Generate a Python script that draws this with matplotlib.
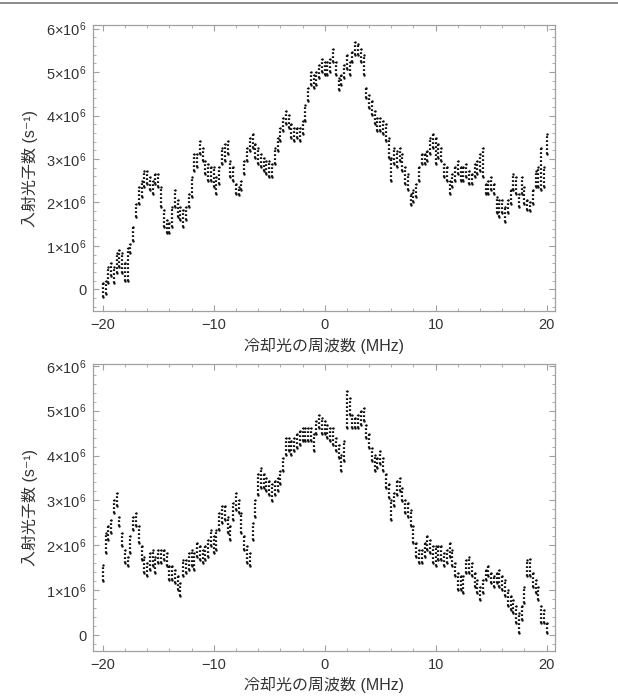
import numpy as np
import matplotlib
matplotlib.use("Agg")
import matplotlib.pyplot as plt
from matplotlib.ticker import FixedLocator, MultipleLocator, FixedFormatter
from matplotlib.lines import Line2D

plt.rcParams['font.family'] = ['Liberation Sans', 'Noto Sans CJK JP', 'DejaVu Sans']
plt.rcParams['mathtext.fontset'] = 'custom'
plt.rcParams['mathtext.rm'] = 'Liberation Sans'
plt.rcParams['mathtext.it'] = 'Liberation Sans'

freq = np.arange(-80, 81) * 0.25

# upper / lower edge of the point cloud, units of 1e6 s^-1
top_hi = [0.14, 0.20, 0.52, 0.60, 0.52, 0.83, 0.90, 0.83,
          0.60, 0.95, 1.05, 1.43, 1.97, 2.35, 2.50, 2.73,
          2.73, 2.58, 2.50, 2.66, 2.66, 2.35, 1.82, 1.60,
          1.52, 1.90, 2.28, 2.05, 1.90, 1.82, 1.90, 2.20,
          2.58, 3.11, 3.11, 3.42, 3.26, 2.96, 2.88, 2.81,
          2.81, 2.58, 2.81, 3.26, 3.34, 3.42, 2.96, 2.81,
          2.43, 2.35, 2.50, 2.96, 3.26, 3.49, 3.57, 3.34,
          3.26, 3.11, 3.03, 2.96, 2.96, 2.88, 3.26, 3.49,
          3.72, 3.95, 4.10, 4.02, 3.80, 3.72, 3.72, 3.72,
          3.87, 4.25, 4.63, 5.01, 4.93, 5.01, 5.16, 5.31,
          5.24, 5.24, 5.31, 5.54, 5.24, 4.86, 4.93, 5.16,
          5.39, 5.24, 5.46, 5.69, 5.65, 5.54, 5.39, 4.63,
          4.48, 4.33, 4.10, 3.95, 3.95, 3.87, 3.80, 3.49,
          3.03, 3.26, 3.19, 3.26, 3.11, 2.81, 2.66, 2.20,
          2.28, 2.43, 2.81, 3.11, 3.11, 3.19, 3.49, 3.57,
          3.49, 3.34, 3.26, 2.88, 2.81, 2.50, 2.66, 2.81,
          2.96, 2.81, 2.81, 2.88, 2.73, 2.66, 2.88, 2.96,
          3.11, 3.26, 2.43, 2.50, 2.58, 2.43, 2.12, 2.05,
          2.05, 1.90, 2.05, 2.28, 2.66, 2.58, 2.20, 2.58,
          2.35, 2.05, 2.00, 2.28, 2.73, 2.81, 3.26, 2.81,
          3.57]
top_lo = [-0.17, -0.10, 0.14, 0.30, 0.14, 0.37, 0.52, 0.37,
          0.20, 0.20, 0.83, 1.12, 1.67, 1.97, 2.12, 2.35,
          2.43, 2.28, 2.20, 2.43, 2.35, 1.90, 1.44, 1.29,
          1.29, 1.44, 1.90, 1.67, 1.60, 1.44, 1.60, 1.90,
          2.12, 2.73, 2.81, 3.11, 2.96, 2.66, 2.50, 2.50,
          2.35, 2.20, 2.43, 2.88, 2.96, 3.11, 2.58, 2.50,
          2.20, 2.16, 2.28, 2.66, 2.96, 3.19, 3.26, 3.03,
          2.88, 2.81, 2.73, 2.66, 2.58, 2.58, 2.88, 3.19,
          3.42, 3.65, 3.80, 3.72, 3.49, 3.42, 3.49, 3.42,
          3.57, 3.87, 4.33, 4.71, 4.63, 4.71, 4.86, 5.01,
          4.93, 4.93, 5.01, 5.24, 4.93, 4.59, 4.71, 4.86,
          5.08, 4.93, 5.24, 5.39, 5.39, 5.24, 4.93, 4.40,
          4.17, 4.02, 3.80, 3.65, 3.65, 3.57, 3.42, 3.03,
          2.50, 2.88, 2.81, 2.96, 2.73, 2.43, 2.28, 1.93,
          2.01, 2.12, 2.50, 2.88, 2.88, 2.96, 3.11, 3.26,
          2.88, 3.03, 2.96, 2.58, 2.50, 2.20, 2.35, 2.50,
          2.66, 2.50, 2.50, 2.58, 2.43, 2.43, 2.58, 2.66,
          2.73, 2.58, 2.20, 2.20, 2.28, 2.20, 1.75, 1.67,
          1.75, 1.56, 1.75, 1.97, 2.28, 2.20, 1.90, 2.20,
          1.97, 1.82, 1.80, 1.97, 2.35, 2.35, 2.28, 2.35,
          3.11]

bot_hi = [1.55, 2.27, 2.42, 2.57, 3.01, 3.16, 2.64, 2.27,
          1.90, 1.75, 2.20, 2.64, 2.72, 2.42, 1.98, 1.75,
          1.60, 1.83, 1.90, 1.75, 1.90, 1.90, 1.90, 1.83,
          1.53, 1.53, 1.46, 1.31, 1.16, 1.68, 1.68, 1.83,
          1.90, 1.83, 2.05, 1.98, 1.90, 1.98, 2.12, 2.35,
          2.20, 2.35, 2.72, 2.87, 2.87, 2.64, 2.42, 2.94,
          3.16, 3.01, 2.72, 2.20, 1.98, 1.83, 2.50, 3.01,
          3.58, 3.73, 3.58, 3.50, 3.43, 3.36, 3.43, 3.50,
          3.65, 3.95, 4.39, 4.39, 4.32, 4.39, 4.47, 4.54,
          4.62, 4.62, 4.62, 4.62, 4.47, 4.76, 4.91, 4.84,
          4.76, 4.69, 4.62, 4.62, 4.39, 4.24, 4.02, 4.32,
          5.43, 5.28, 4.91, 4.84, 4.91, 4.99, 5.06, 4.69,
          4.47, 4.17, 4.02, 3.95, 4.10, 3.95, 3.58, 3.36,
          3.01, 3.16, 3.43, 3.50, 3.28, 3.01, 2.94, 2.79,
          2.42, 2.05, 1.90, 1.90, 2.05, 2.20, 2.12, 1.98,
          1.98, 1.98, 1.98, 1.83, 1.90, 2.05, 1.90, 1.60,
          1.38, 1.31, 1.31, 1.68, 1.75, 1.60, 1.38, 1.23,
          1.08, 1.23, 1.46, 1.53, 1.38, 1.31, 1.38, 1.46,
          1.31, 1.23, 1.01, 0.86, 0.79, 0.64, 0.49, 0.64,
          1.08, 1.68, 1.70, 1.38, 1.23, 1.08, 0.64, 0.56,
          0.27]
bot_lo = [1.20, 1.83, 2.12, 2.27, 2.72, 2.87, 2.42, 1.98,
          1.60, 1.53, 1.83, 2.35, 2.42, 2.05, 1.68, 1.38,
          1.31, 1.46, 1.53, 1.38, 1.60, 1.60, 1.68, 1.53,
          1.23, 1.23, 1.16, 1.01, 0.86, 1.31, 1.38, 1.46,
          1.53, 1.46, 1.75, 1.68, 1.60, 1.68, 1.75, 1.98,
          1.83, 1.90, 2.35, 2.50, 2.57, 2.27, 2.12, 2.57,
          2.79, 2.72, 2.27, 1.90, 1.60, 1.53, 2.12, 2.64,
          3.13, 3.28, 3.28, 3.21, 3.13, 2.98, 3.13, 3.21,
          3.36, 3.65, 4.02, 4.10, 4.02, 4.10, 4.17, 4.24,
          4.32, 4.32, 4.32, 4.32, 4.10, 4.47, 4.62, 4.47,
          4.47, 4.39, 4.32, 4.24, 4.10, 3.95, 3.65, 3.88,
          4.62, 4.91, 4.62, 4.62, 4.62, 4.69, 4.76, 4.39,
          4.17, 3.88, 3.65, 3.73, 3.80, 3.65, 3.28, 3.06,
          2.57, 2.87, 3.13, 3.21, 2.98, 2.72, 2.64, 2.42,
          2.05, 1.75, 1.60, 1.60, 1.75, 1.90, 1.83, 1.60,
          1.53, 1.68, 1.68, 1.53, 1.60, 1.75, 1.53, 1.31,
          1.01, 1.01, 0.94, 1.38, 1.38, 1.31, 1.08, 0.94,
          0.79, 0.94, 1.23, 1.31, 1.16, 1.08, 1.16, 1.08,
          1.01, 0.86, 0.64, 0.56, 0.49, 0.27, 0.04, 0.34,
          0.71, 1.31, 1.31, 1.08, 0.94, 0.79, 0.27, 0.27,
          0.04]

panels = [
    (top_lo, top_hi, [0.151, 0.555, 0.747, 0.409], (-0.50e6, 6.08e6)),
    (bot_lo, bot_hi, [0.151, 0.069, 0.747, 0.410], (-0.35e6, 6.035e6)),
]

ytick_vals = [0, 1e6, 2e6, 3e6, 4e6, 5e6, 6e6]
ytick_text = ['0'] + [r'%d$\times$10$^{6}$' % k for k in range(1, 7)]
frame_col = '#a0a0a0'
text_col = '#333333'

fig = plt.figure(figsize=(6.18, 6.99), dpi=100)

for lo, hi, rect, ylim in panels:
    ax = fig.add_axes(rect)
    lo = np.array(lo) * 1e6
    hi = np.array(hi) * 1e6
    ax.vlines(freq, lo, hi, color='#111111', linewidth=1.6,
              linestyles=(0, (0.8, 1.0)))
    ax.scatter(np.concatenate([freq, freq]), np.concatenate([lo, hi]),
               s=3, color='#111111', linewidths=0)

    ax.set_xlim(-20.85, 20.75)
    ax.set_ylim(*ylim)
    ax.xaxis.set_major_locator(FixedLocator([-20, -10, 0, 10, 20]))
    ax.xaxis.set_minor_locator(MultipleLocator(2))
    ax.yaxis.set_major_locator(FixedLocator(ytick_vals))
    ax.yaxis.set_major_formatter(FixedFormatter(ytick_text))
    ax.yaxis.set_minor_locator(MultipleLocator(0.2e6))
    ax.set_xticklabels(['\u221220', '\u221210', '0', '10', '20'])

    for s in ax.spines.values():
        s.set_color(frame_col)
        s.set_linewidth(0.9)
    ax.tick_params(which='both', direction='in', top=True, right=True,
                   color=frame_col, labelsize=10.5, labelcolor=text_col)
    ax.tick_params(which='major', length=4.5, width=0.8, pad=5)
    ax.tick_params(which='minor', length=2.5, width=0.6)

    ax.set_xlabel('冷却光の周波数 (MHz)', fontsize=11.5, color=text_col, labelpad=4)
    ax.set_ylabel('入射光子数 (s\u207b\u00b9)', fontsize=11.5, color=text_col, labelpad=6)

fig.add_artist(Line2D([0, 1], [0.996, 0.996], transform=fig.transFigure,
                      color='#777777', linewidth=1.2))

fig.savefig('out.png', dpi=100)
